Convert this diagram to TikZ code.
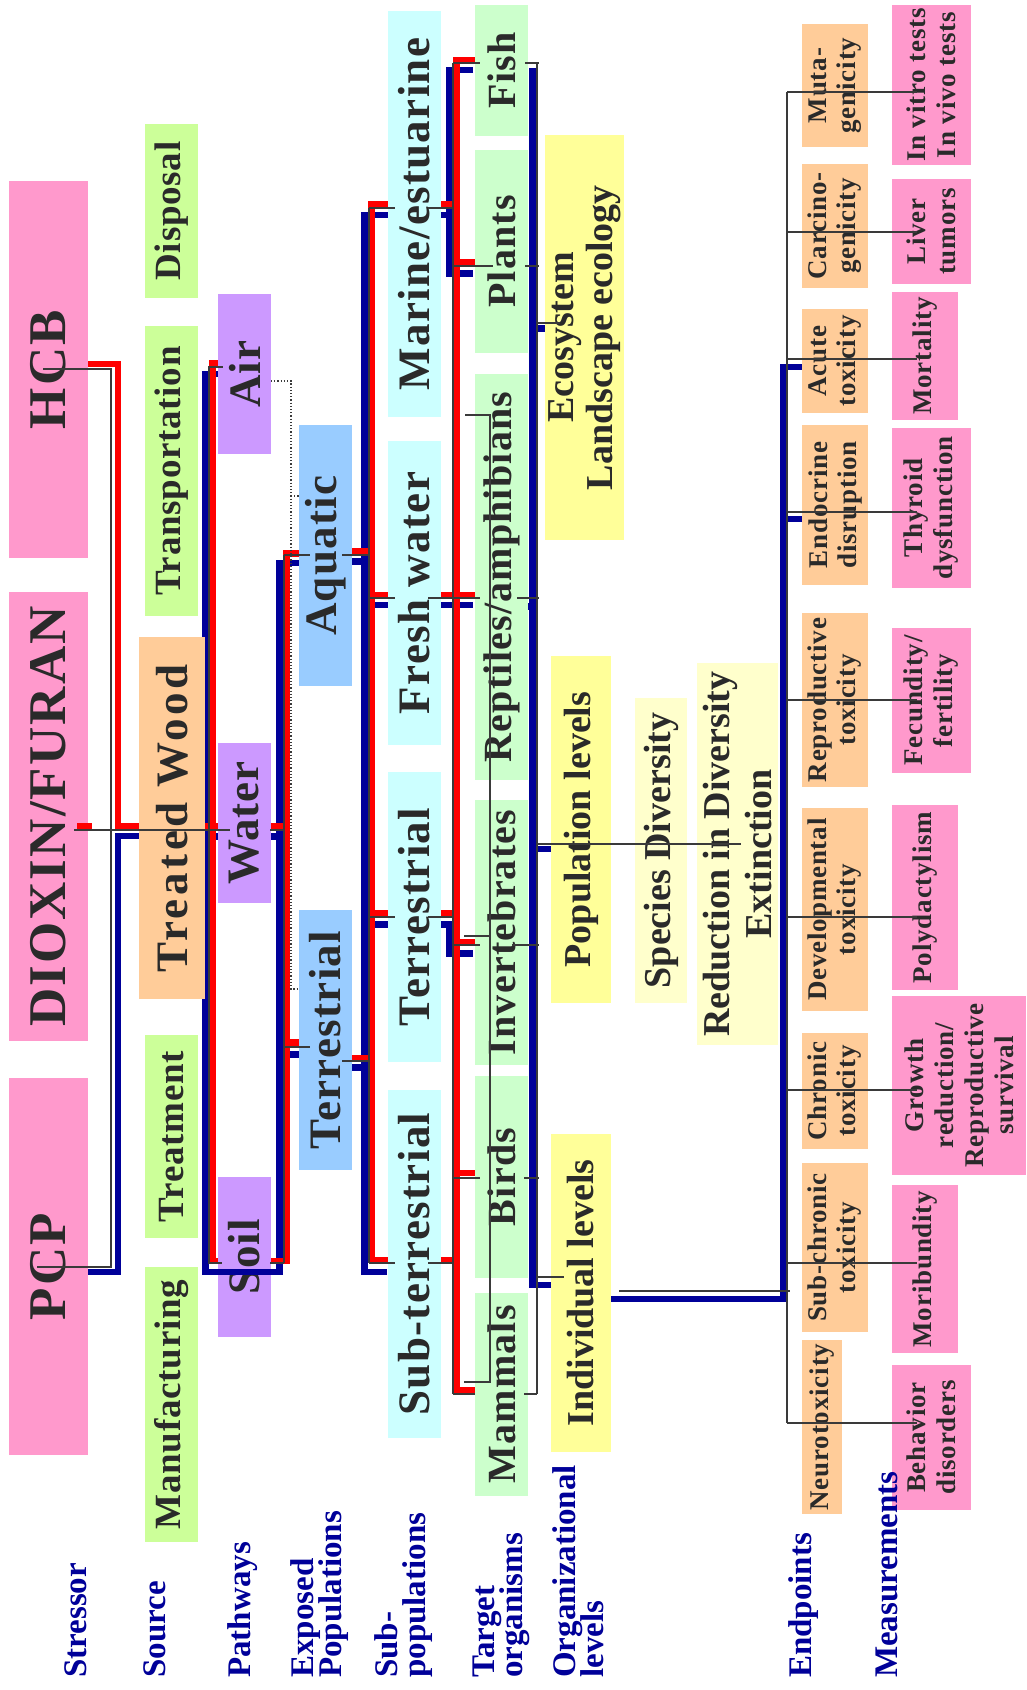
\documentclass[tikz,border=0pt]{standalone}
\usepackage{fontspec}
\setmainfont{Liberation Serif}
\newfontfamily\lsA{Liberation Serif}[LetterSpace=2.0]
\newfontfamily\lsB{Liberation Serif}[LetterSpace=3.0]
\newfontfamily\lsC{Liberation Serif}[LetterSpace=4.0]
\newfontfamily\lsD{Liberation Serif}[LetterSpace=8.0]
\definecolor{cpink}{HTML}{FF99CC}
\definecolor{cgreen}{HTML}{CCFF99}
\definecolor{corange}{HTML}{FFCC99}
\definecolor{cpurple}{HTML}{CC99FF}
\definecolor{cblue}{HTML}{99CCFF}
\definecolor{ccyan}{HTML}{CCFFFF}
\definecolor{cmint}{HTML}{CCFFCC}
\definecolor{cyellow}{HTML}{FFFF99}
\definecolor{cpale}{HTML}{FFFFCC}
\definecolor{txt}{HTML}{2A2A2A}
\definecolor{lblue}{HTML}{000099}
\definecolor{lnblue}{HTML}{000099}
\definecolor{lnred}{HTML}{FF0000}
\definecolor{gry}{HTML}{3A3A3A}
\newcommand\bx[7]{\node[#6, minimum width={(#5)-(#3)}, minimum height={(#4)-(#2)}] (#1) at ({((#2)+(#4))/2},{((#3)+(#5))/2}) {#7};}
\tikzset{
  bbase/.style={rotate=90, inner sep=0pt, outer sep=0pt, align=center, text=txt},
  stressbox/.style={bbase, fill=cpink, font=\lsC\fontsize{53}{60}\selectfont\bfseries},
  sourcebox/.style={bbase, fill=cgreen, font=\lsA\fontsize{37}{40}\selectfont\bfseries},
  woodbox/.style={bbase, fill=corange, font=\lsD\fontsize{45}{50}\selectfont\bfseries},
  pathbox/.style={bbase, fill=cpurple, font=\lsA\fontsize{45}{50}\selectfont\bfseries},
  expbox/.style={bbase, fill=cblue, font=\lsB\fontsize{45}{50}\selectfont\bfseries},
  subbox/.style={bbase, fill=ccyan, font=\lsB\fontsize{45}{50}\selectfont\bfseries},
  tgtbox/.style={bbase, fill=cmint, font=\lsB\fontsize{40}{44}\selectfont\bfseries},
  orgbox/.style={bbase, fill=cyellow, font=\fontsize{38}{39}\selectfont\bfseries},
  divbox/.style={bbase, fill=cpale, font=\fontsize{38}{42}\selectfont\bfseries},
  endbox/.style={bbase, fill=corange, font=\lsB\fontsize{27}{29}\selectfont\bfseries},
  measbox/.style={bbase, fill=cpink, font=\lsB\fontsize{27}{30}\selectfont\bfseries},
  rowlbl/.style={rotate=90, inner sep=0pt, anchor=base west, text=lblue, font=\fontsize{33}{33}\selectfont\bfseries},
  rl/.style={draw=lnred, line width=6.5pt, line join=miter},
  bl/.style={draw=lnblue, line width=6.5pt, line join=miter},
  gl/.style={draw=gry, line width=1.4pt},
  dl/.style={draw=gry, line width=1.2pt, dotted},
}
\begin{document}
\begin{tikzpicture}[x=1pt,y=-1pt]
\path[use as bounding box, fill=white] (0,0) rectangle (1026,1690);

% ---------- thick blue links ----------
\draw[bl] (88,1272) -- (118,1272) -- (118,836) -- (139,836);
\draw[bl] (218,374) -- (205.5,374) -- (205.5,1272) -- (279.5,1272) -- (279.5,563) -- (299,563);
\draw[bl] (205,836.5) -- (218,836.5);
\draw[bl] (271,836.5) -- (279.5,836.5);
\draw[bl] (279.5,1054.5) -- (299,1054.5);
\draw[bl] (388,215) -- (364.5,215) -- (364.5,1272) -- (387,1272);
\draw[bl] (352,561.5) -- (364.5,561.5);
\draw[bl] (364.5,605) -- (388,605);
\draw[bl] (364.5,924.5) -- (388,924.5);
\draw[bl] (352,1067.5) -- (364.5,1067.5);
\draw[bl] (473,70) -- (449.5,70) -- (449.5,273.5) -- (473,273.5);
\draw[bl] (441,215) -- (449.5,215);
\draw[bl] (441,605) -- (473,605);
\draw[bl] (441,924.5) -- (449.5,924.5) -- (449.5,953.5) -- (473,953.5);
\draw[bl] (532.5,68) -- (532.5,1285) -- (551,1285);
\draw[bl] (532.5,328.5) -- (545,328.5);
\draw[bl] (532.5,849) -- (551,849);
\draw[bl] (522,388) -- (522,606.5) -- (532.5,606.5);
\draw[bl] (611,1299) -- (783,1299) -- (783,367) -- (802,367);
\draw[bl] (783,519) -- (802,519);

% ---------- thick red links ----------
\draw[rl] (88,364) -- (118,364) -- (118,826) -- (139,826);
\draw[rl] (218,363) -- (212.5,363) -- (212.5,1261) -- (218,1261);
\draw[rl] (205,826) -- (218,826);
\draw[rl] (299,553.5) -- (286.5,553.5) -- (286.5,1261) -- (271,1261);
\draw[rl] (271,826) -- (286.5,826);
\draw[rl] (286.5,1042.5) -- (299,1042.5);
\draw[rl] (388,204.5) -- (371.5,204.5) -- (371.5,1260) -- (388,1260);
\draw[rl] (352,551) -- (371.5,551);
\draw[rl] (371.5,595) -- (388,595);
\draw[rl] (371.5,913.5) -- (388,913.5);
\draw[rl] (352,1058) -- (371.5,1058);
\draw[rl] (475,60) -- (456.5,60) -- (456.5,1390.5) -- (475,1390.5);
\draw[rl] (441,204.5) -- (456.5,204.5);
\draw[rl] (441,595) -- (475,595);
\draw[rl] (441,913.5) -- (456.5,913.5);
\draw[rl] (441,1260) -- (456.5,1260);
\draw[rl] (456.5,262) -- (475,262);
\draw[rl] (456.5,942) -- (475,942);
\draw[rl] (456.5,1173) -- (475,1173);

% ---------- boxes ----------
\bx{hcb}{9}{181}{88}{558}{stressbox}{HCB}
\bx{dioxin}{9}{592}{88}{1041}{stressbox}{DIOXIN/FURAN}
\bx{pcp}{9}{1078}{88}{1455}{stressbox}{PCP}

\bx{disposal}{145}{124}{198}{298}{sourcebox}{Disposal}
\bx{transport}{145}{326}{198}{616}{sourcebox}{Transportation}
\bx{wood}{139}{637}{205}{999}{woodbox}{Treated Wood}
\bx{treatment}{145}{1035}{198}{1238}{sourcebox}{Treatment}
\bx{manuf}{145}{1267}{198}{1542}{sourcebox}{Manufacturing}

\bx{air}{218}{294}{271}{454}{pathbox}{Air}
\bx{water}{218}{743}{271}{903}{pathbox}{Water}
\bx{soil}{218}{1177}{271}{1337}{pathbox}{Soil}

\bx{aquatic}{299}{425}{352}{686}{expbox}{Aquatic}
\bx{terrE}{299}{910}{352}{1170}{expbox}{Terrestrial}

\bx{marine}{388}{11}{441}{417}{subbox}{Marine/estuarine}
\bx{fresh}{388}{441}{441}{745}{subbox}{Fresh water}
\bx{terrS}{388}{772}{441}{1062}{subbox}{Terrestrial}
\bx{subterr}{388}{1090}{441}{1438}{subbox}{Sub-terrestrial}

\bx{fish}{475}{5}{528}{136}{tgtbox}{Fish}
\bx{plants}{475}{150}{528}{353}{tgtbox}{Plants}
\bx{reptiles}{475}{374}{528}{780}{tgtbox}{Reptiles/amphibians}
\bx{invert}{475}{800}{528}{1065}{tgtbox}{Invertebrates}
\bx{birds}{475}{1076}{528}{1278}{tgtbox}{Birds}
\bx{mammals}{475}{1293}{528}{1496}{tgtbox}{Mammals}

\bx{eco}{545}{135}{624}{540}{orgbox}{Ecosystem\\Landscape ecology}
\bx{popl}{551}{656}{611}{1003}{orgbox}{Population levels}
\bx{indiv}{551}{1134}{611}{1452}{orgbox}{Individual levels}

\bx{species}{635}{698}{687}{1003}{divbox}{Species Diversity}
\bx{reduction}{697}{663}{778}{1045}{divbox}{Reduction in Diversity\\Extinction}

\bx{muta}{802}{24}{868}{147}{endbox}{Muta-\\genicity}
\bx{carcino}{802}{164}{868}{288}{endbox}{Carcino-\\genicity}
\bx{acute}{802}{309}{868}{413}{endbox}{Acute\\toxicity}
\bx{endocrine}{802}{425}{868}{585}{endbox}{Endocrine\\disruption}
\bx{reprod}{802}{613}{868}{787}{endbox}{Reproductive\\toxicity}
\bx{develop}{802}{808}{868}{1011}{endbox}{Developmental\\toxicity}
\bx{chronic}{802}{1033}{868}{1149}{endbox}{Chronic\\toxicity}
\bx{subchronic}{802}{1163}{868}{1332}{endbox}{Sub-chronic\\toxicity}
\bx{neuro}{802}{1340}{842}{1514}{endbox}{Neurotoxicity}

\bx{invitro}{892}{5}{971}{165}{measbox}{In vitro tests\\In vivo tests}
\bx{liver}{892}{179}{971}{284}{measbox}{Liver\\tumors}
\bx{mortality}{892}{292}{958}{420}{measbox}{Mortality}
\bx{thyroid}{892}{428}{971}{588}{measbox}{Thyroid\\dysfunction}
\bx{fecund}{892}{628}{971}{773}{measbox}{Fecundity/\\fertility}
\bx{polyd}{892}{805}{958}{990}{measbox}{Polydactylism}
\bx{growth}{892}{996}{1026}{1175}{measbox}{Growth\\reduction/\\Reproductive\\survival}
\bx{moribund}{892}{1185}{958}{1353}{measbox}{Moribundity}
\bx{behavior}{892}{1365}{971}{1510}{measbox}{Behavior\\disorders}

% ---------- thick links drawn over boxes ----------
\draw[rl] (77,826) -- (92,826);
\draw[bl] (202,1272) -- (283,1272);

% ---------- thin grey links ----------
\draw[gl] (43,369) -- (111,369) -- (111,1267) -- (37,1267);
\draw[gl] (74,830) -- (230,830);
\draw[gl] (208,367) -- (223,367);
\draw[gl] (209,367) -- (209,1263);
\draw[gl] (208,1263) -- (222,1263);
\draw[gl] (284,555) -- (310,555);
\draw[gl] (284,555) -- (284,1263);
\draw[gl] (284,1047) -- (310,1047);
\draw[gl] (270,830) -- (284,830);
\draw[gl] (270,1263) -- (284,1263);
\draw[dl] (271,381) -- (291,381) -- (291,989) -- (299,989);
\draw[dl] (291,496) -- (299,496);

\draw[gl] (369,208) -- (369,1263);
\draw[gl] (369,208) -- (395,208);
\draw[gl] (342,555) -- (369,555);
\draw[gl] (369,598) -- (395,598);
\draw[gl] (369,917) -- (395,917);
\draw[gl] (342,1061) -- (369,1061);
\draw[gl] (369,1263) -- (395,1263);

\draw[gl] (453,63) -- (453,1394);
\draw[gl] (453,63) -- (480,63);
\draw[gl] (453,266) -- (493,266);
\draw[gl] (428,208) -- (453,208);
\draw[gl] (428,598) -- (480,598);
\draw[gl] (428,917) -- (453,917);
\draw[gl] (453,945) -- (480,945);
\draw[gl] (453,1178) -- (480,1178);
\draw[gl] (428,1263) -- (453,1263);
\draw[gl] (453,1394) -- (475,1394);
\draw[gl] (465,415) -- (490,415) -- (490,1382) -- (464,1382);
\draw[gl] (464,936) -- (490,936);

\draw[gl] (537,63) -- (537,1394);
\draw[gl] (525,63) -- (539,63);
\draw[gl] (525,266) -- (539,266);
\draw[gl] (537,323) -- (560,323);
\draw[gl] (517,598) -- (539,598);
\draw[gl] (512,945) -- (539,945);
\draw[gl] (537,844) -- (741,844);
\draw[gl] (524,1178) -- (539,1178);
\draw[gl] (536,1277) -- (564,1277);
\draw[gl] (524,1394) -- (537,1394);

\draw[gl] (619,1291) -- (790,1291);
\draw[gl] (787,92) -- (787,1423);
\foreach \yy in {92,232,359,512,700,917,1090,1263,1423} \draw[gl] (787,\yy) -- (917,\yy);

% ---------- row labels ----------
\node[rowlbl] (lstress) at (86,1678) {Stressor};
\node[rowlbl] (lsource) at (165,1678) {Source};
\node[rowlbl] (lpath) at (250,1678) {Pathways};
\node[rowlbl] (lexpa) at (313,1678) {Exposed};
\node[rowlbl] (lexpb) at (341,1678) {Populations};
\node[rowlbl] (lsuba) at (397,1678) {Sub-};
\node[rowlbl] (lsubb) at (425,1678) {populations};
\node[rowlbl] (ltgta) at (494,1678) {Target};
\node[rowlbl] (ltgtb) at (522,1678) {organisms};
\node[rowlbl] (lorga) at (575,1678) {Organizational};
\node[rowlbl] (lorgb) at (603,1678) {levels};
\node[rowlbl] (lend) at (811,1678) {Endpoints};
\node[rowlbl] (lmeas) at (897,1678) {Measurements};
\end{tikzpicture}
\end{document}
